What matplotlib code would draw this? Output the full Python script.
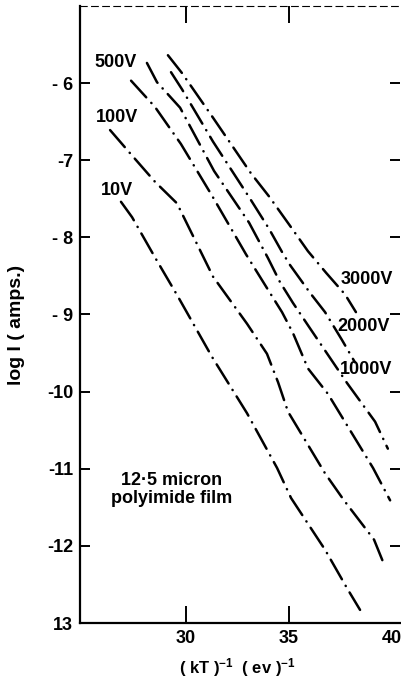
import matplotlib
matplotlib.use("Agg")
import matplotlib.pyplot as plt

plt.rcParams['font.family'] = ['Liberation Sans', 'DejaVu Sans']
plt.rcParams['mathtext.fontset'] = 'custom'
plt.rcParams['mathtext.rm'] = 'Liberation Sans:bold'
plt.rcParams['mathtext.it'] = 'Liberation Sans:bold'

# curves: x = (kT)^-1 in (eV)^-1, y = log I
x_10v = [26.84, 27.38, 28.49, 29.61, 31.26, 32.96, 34.42, 35.10, 36.75, 37.82, 38.45]
y_10v = [-7.54, -7.74, -8.26, -8.77, -9.55, -10.28, -10.99, -11.38, -12.05, -12.55, -12.83]

x_100v = [26.31, 27.28, 28.49, 29.56, 31.31, 32.96, 33.93, 34.47, 34.95, 36.75, 37.67, 39.13, 39.57]
y_100v = [-6.61, -6.91, -7.28, -7.56, -8.51, -9.12, -9.51, -9.88, -10.26, -11.06, -11.41, -11.92, -12.21]

x_500v = [27.33, 28.49, 29.75, 31.26, 32.91, 33.98, 34.66, 35.19, 35.92, 36.89, 39.08, 39.91]
y_500v = [-5.97, -6.31, -6.79, -7.46, -8.22, -8.68, -8.97, -9.24, -9.70, -10.03, -10.99, -11.41]

x_1000v = [28.10, 28.59, 29.71, 31.36, 33.06, 33.98, 34.56, 35.19, 36.02, 37.82, 39.18, 39.80]
y_1000v = [-5.74, -5.99, -6.32, -7.14, -7.81, -8.27, -8.58, -8.85, -9.18, -9.89, -10.39, -10.74]

x_2000v = [29.27, 29.80, 31.31, 33.11, 34.03, 34.66, 35.05, 36.02, 36.75, 37.57, 38.20]
y_2000v = [-5.86, -6.08, -6.76, -7.50, -7.89, -8.19, -8.36, -8.72, -8.97, -9.33, -9.62]

x_3000v = [29.12, 29.80, 31.31, 33.15, 34.03, 35.10, 35.92, 36.80, 37.72, 38.25]
y_3000v = [-5.64, -5.87, -6.45, -7.17, -7.47, -7.87, -8.18, -8.46, -8.74, -8.97]

x_ticks = [30, 35, 40]
y_ticks = [-13, -12, -11, -10, -9, -8, -7, -6]
y_tick_labels = ['13', '-12', '-11', '-10', '- 9', '- 8', '-7', '- 6']

fig = plt.figure(figsize=(4.01, 6.82), dpi=100)
ax = fig.add_axes([0.1995, 0.0865, 0.798, 0.9049])

dash = (0, (9, 3, 0.1, 3))
for xs, ys in [(x_10v, y_10v), (x_100v, y_100v), (x_500v, y_500v),
               (x_1000v, y_1000v), (x_2000v, y_2000v), (x_3000v, y_3000v)]:
    ax.plot(xs, ys, color='black', lw=1.8, linestyle=dash,
            dash_capstyle='round', solid_capstyle='round')

ax.set_xlim(24.85, 40.39)
ax.set_ylim(-13, -5)

ax.set_xticks(x_ticks)
ax.set_xticklabels([str(t) for t in x_ticks])
ax.set_yticks(y_ticks)
ax.set_yticklabels(y_tick_labels)
ax.tick_params(axis='x', direction='in', length=12, width=1.4, top=True,
               labelsize=13, pad=5)
ax.tick_params(axis='y', direction='in', length=7, width=1.4, right=True,
               labelsize=13, pad=5)
for lab in ax.get_xticklabels() + ax.get_yticklabels():
    lab.set_fontweight('bold')
# no tick mark drawn at 40, only the label
t40 = ax.xaxis.get_major_ticks()[2]
t40.tick1line.set_visible(False)
t40.tick2line.set_visible(False)

ax.spines['right'].set_visible(False)
ax.spines['top'].set_linestyle((0, (6, 4)))
ax.spines['top'].set_linewidth(0.8)
ax.spines['left'].set_linewidth(1.6)
ax.spines['bottom'].set_linewidth(1.6)

# curve labels
lab_kw = dict(fontsize=13, fontweight='bold', ha='center', va='center')
ax.text(26.60, -5.73, '500V', **lab_kw)
ax.text(26.65, -6.45, '100V', **lab_kw)
ax.text(26.65, -7.39, '10V', **lab_kw)
ax.text(38.79, -8.55, '3000V', **lab_kw)
ax.text(38.64, -9.16, '2000V', **lab_kw)
ax.text(38.74, -9.72, '1000V', **lab_kw)

ax.text(29.32, -11.27, '12·5 micron\npolyimide film', fontsize=13,
        fontweight='bold', ha='center', va='center', linespacing=1.05)

fig.text(0.04, 0.523, 'log I ( amps.)', rotation=90, fontsize=14,
         fontweight='bold', ha='center', va='center')
fig.text(0.591, 0.021, r'( kT )$^{-1}$  ( ev )$^{-1}$', fontsize=12,
         fontweight='bold', ha='center', va='center')

fig.savefig('out.png', dpi=100, facecolor='white')
